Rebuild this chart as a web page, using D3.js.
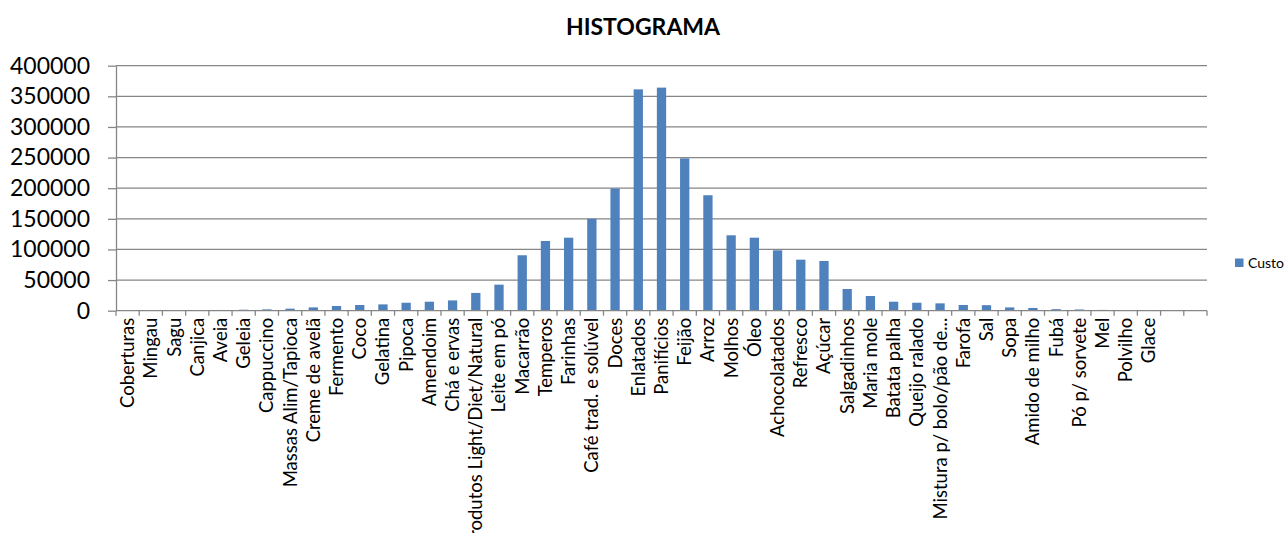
<!DOCTYPE html>
<html>
<head>
<meta charset="utf-8">
<script src="https://cdn.jsdelivr.net/npm/d3@7"></script>
<style>
  html, body { margin: 0; padding: 0; background: #fff; }
  svg { display: block; }
  text { font-family: Lato, "Open Sans", sans-serif; fill: #000; }
</style>
</head>
<body>
<svg id="chart" width="1284" height="533"></svg>
<script>
const title = "HISTOGRAMA";
const seriesName = "Custo";
const categories = [
  "Coberturas", "Mingau", "Sagu", "Canjica", "Aveia", "Geleia", "Cappuccino",
  "Massas Alim/Tapioca", "Creme de avelã", "Fermento", "Coco", "Gelatina", "Pipoca",
  "Amendoim", "Chá e ervas", "Produtos Light/Diet/Natural", "Leite em pó", "Macarrão",
  "Temperos", "Farinhas", "Café trad. e solúvel", "Doces", "Enlatados", "Panifícios",
  "Feijão", "Arroz", "Molhos", "Óleo", "Achocolatados", "Refresco", "Açúcar",
  "Salgadinhos", "Maria mole", "Batata palha", "Queijo ralado", "Mistura p/ bolo/pão de...",
  "Farofa", "Sal", "Sopa", "Amido de milho", "Fubá", "Pó p/ sorvete", "Mel", "Polvilho",
  "Glace", "", ""
];
const values = [
  300, 400, 600, 1000, 1200, 1600, 2200,
  3300, 5400, 7700, 9300, 10300, 13000,
  14700, 16800, 29000, 42500, 90500,
  113800, 119200, 150200, 199500, 361400, 364200,
  248700, 188500, 123100, 119200, 98600, 83300, 81200,
  35400, 24000, 14700, 13000, 12000,
  9300, 9000, 5400, 4500, 2500, 2000, 1300, 1000,
  600, null, null
];
const yTicks = [0, 50000, 100000, 150000, 200000, 250000, 300000, 350000, 400000];

const svg = d3.select("#chart");
const plotLeft = 116, plotRight = 1207, plotTop = 65.7, plotBottom = 310.7;
const gray = "#868686";

const x = d3.scaleBand()
  .domain(d3.range(categories.length))
  .range([plotLeft, plotRight])
  .paddingInner(0.6)
  .paddingOuter(0.3);

const y = d3.scaleLinear().domain([0, 400000]).range([plotBottom, plotTop]);

// gridlines
svg.append("g")
  .selectAll("line")
  .data(yTicks.slice(1))
  .join("line")
  .attr("x1", plotLeft).attr("x2", plotRight)
  .attr("y1", d => y(d)).attr("y2", d => y(d))
  .attr("stroke", gray).attr("stroke-width", 1.3);

// bars
svg.append("g")
  .selectAll("rect")
  .data(values.map((v, i) => ({ v, i })).filter(d => d.v != null))
  .join("rect")
  .attr("x", d => x(d.i))
  .attr("width", x.bandwidth())
  .attr("y", d => y(d.v))
  .attr("height", d => y(0) - y(d.v))
  .attr("fill", "#4F81BD");

// y axis
const yAxis = svg.append("g")
  .attr("transform", `translate(${plotLeft},0)`)
  .call(d3.axisLeft(y).tickValues(yTicks).tickFormat(d3.format("d"))
    .tickSize(8).tickSizeOuter(0).tickPadding(18));
yAxis.select(".domain").attr("stroke", gray).attr("stroke-width", 1.3);
yAxis.selectAll(".tick line").attr("stroke", gray).attr("stroke-width", 1.3);
yAxis.selectAll(".tick text")
  .style("font-family", "Lato, sans-serif")
  .attr("font-size", 23).attr("fill", "#000");

// x axis: ticks at category boundaries
const step = x.step();
const boundaries = d3.range(categories.length + 1).map(i => plotLeft + i * step);
svg.append("line")
  .attr("x1", plotLeft).attr("x2", plotRight)
  .attr("y1", plotBottom).attr("y2", plotBottom)
  .attr("stroke", gray).attr("stroke-width", 1.3);
svg.append("g")
  .selectAll("line")
  .data(boundaries)
  .join("line")
  .attr("x1", d => d).attr("x2", d => d)
  .attr("y1", plotBottom).attr("y2", plotBottom + 5)
  .attr("stroke", gray).attr("stroke-width", 1.3);

svg.append("g")
  .selectAll("text")
  .data(categories.map((c, i) => ({ c, i })))
  .join("text")
  .attr("transform", d => `translate(${x(d.i) + x.bandwidth() / 2},${plotBottom + 7}) rotate(-90)`)
  .attr("text-anchor", "end")
  .attr("dy", "0.35em")
  .attr("font-size", 18.5)
  .text(d => d.c);

// title
svg.append("text")
  .attr("x", 643).attr("y", 35)
  .attr("text-anchor", "middle")
  .attr("font-weight", "bold")
  .attr("font-size", 23)
  .text(title);

// legend
svg.append("rect")
  .attr("x", 1235).attr("y", 258.5).attr("width", 8.5).attr("height", 8.5)
  .attr("fill", "#4F81BD");
svg.append("text")
  .attr("x", 1248).attr("y", 267.5)
  .attr("font-size", 14)
  .text(seriesName);
</script>
</body>
</html>
